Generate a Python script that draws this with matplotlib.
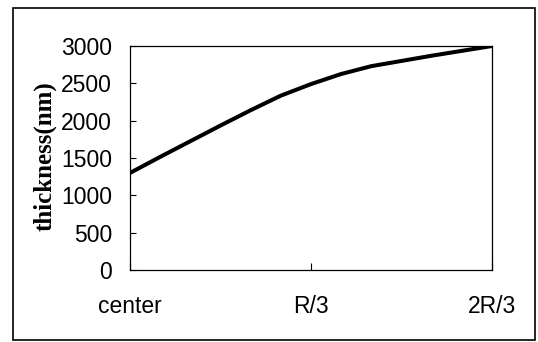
import matplotlib
matplotlib.use('Agg')
import matplotlib.pyplot as plt
from matplotlib.patches import Rectangle

# positions along the radius (0 = center, 1 = R/3, 2 = 2R/3), read every R/18
pos = [0, 1/6, 2/6, 3/6, 4/6, 5/6, 1, 7/6, 8/6, 9/6, 10/6, 11/6, 2]
thickness = [1300, 1515, 1725, 1935, 2140, 2335, 2490, 2625, 2730, 2800, 2870, 2935, 3000]
tick_pos = [0, 1, 2]
tick_labels = ['center', 'R/3', '2R/3']
y_ticks = [0, 500, 1000, 1500, 2000, 2500, 3000]

fig = plt.figure(figsize=(5.38, 3.42), dpi=100)
ax = fig.add_axes([130/538, 72/342, 362/538, 224/342])

ax.plot(pos, thickness, color='black', linewidth=2.9, solid_capstyle='butt',
        solid_joinstyle='round')

ax.set_xlim(0, 2)
ax.set_ylim(0, 3000)
ax.set_xticks(tick_pos)
ax.set_xticklabels(tick_labels, fontfamily='Liberation Sans', fontsize=16.5)
ax.set_yticks(y_ticks)
ax.set_yticklabels([str(v) for v in y_ticks], fontfamily='Liberation Sans', fontsize=16.5)
ax.tick_params(axis='y', direction='in', length=4, width=0.8, pad=13)
ax.tick_params(axis='x', direction='in', length=5, width=0.8, pad=18)
for s in ax.spines.values():
    s.set_linewidth(0.9)

ax.set_ylabel('thickness(nm)', fontfamily='Liberation Serif', fontsize=18, fontweight='bold')
ax.yaxis.set_label_coords(-0.202, 0.51)

# outer frame around the chart
fig.patches.append(Rectangle((13/538, 2/342), 522/538, 332/342, transform=fig.transFigure,
                             fill=False, edgecolor='black', linewidth=1.2))

fig.savefig('out.png', dpi=100)
